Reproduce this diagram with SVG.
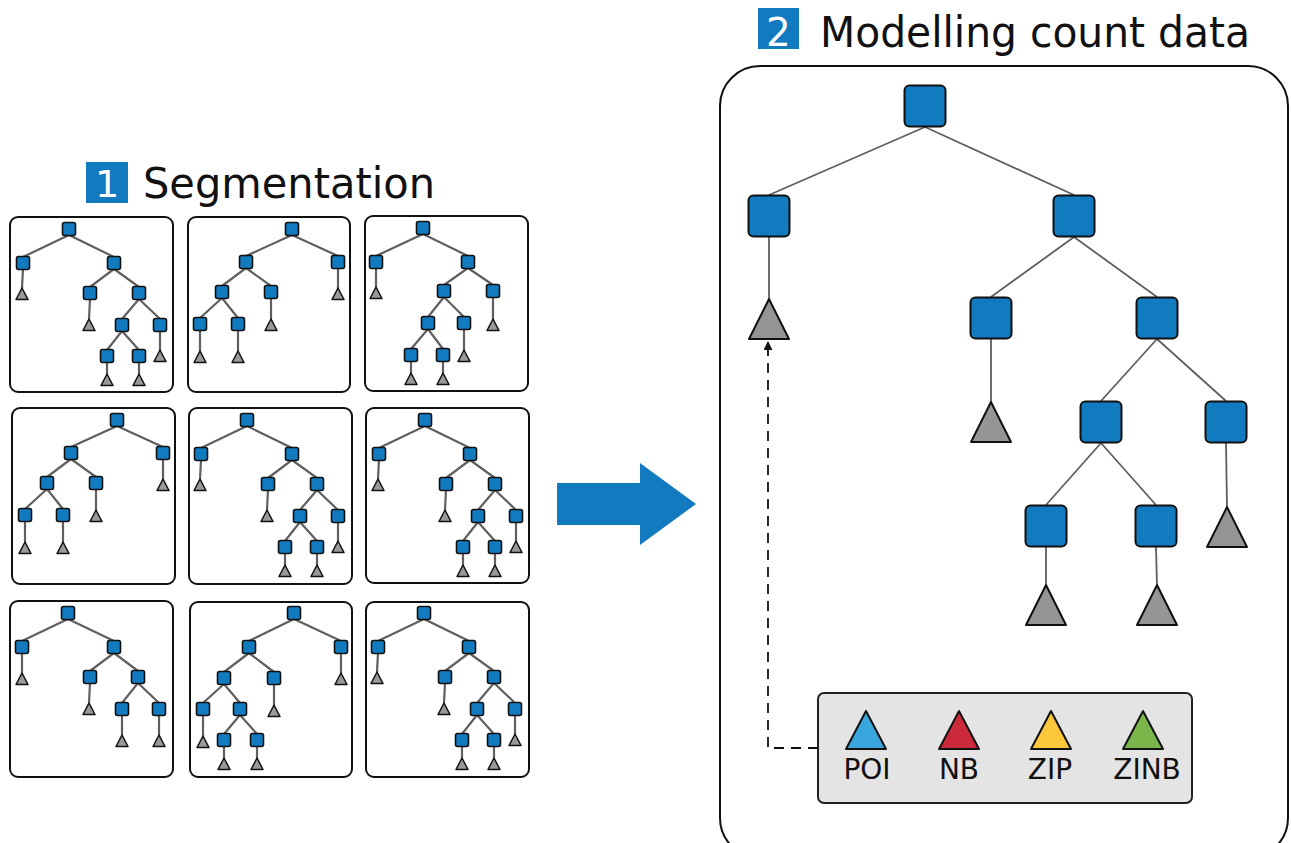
<svg xmlns="http://www.w3.org/2000/svg" xmlns:xlink="http://www.w3.org/1999/xlink" width="1291" height="843" viewBox="0 0 1291 843">
<style>
.panel{fill:#fff;stroke:#111;stroke-width:2}
.ss{fill:#127abf;stroke:#111;stroke-width:1.6}
.st{fill:#999;stroke:#111;stroke-width:1.5;stroke-linejoin:round}
.se{stroke:#5f5f5f;stroke-width:2.2;fill:none}
.bs{fill:#127abf;stroke:#111;stroke-width:2}
.bt{fill:#959595;stroke:#111;stroke-width:2;stroke-linejoin:round}
.be{stroke:#5f5f5f;stroke-width:1.8;fill:none}
.title{font-family:"DejaVu Sans",Verdana,sans-serif;fill:#111}
.num{font-family:"DejaVu Sans",Verdana,sans-serif;fill:#fff;text-anchor:middle}
.lbl{font-family:"DejaVu Sans",Verdana,sans-serif;font-size:28px;fill:#111;text-anchor:middle}
.lt{stroke:#111;stroke-width:2;stroke-linejoin:round}
</style>
<defs>
<rect id="sq" class="ss" x="-6.5" y="-6.5" width="13" height="13" rx="2"/>
<polygon id="tr" class="st" points="0,-6 6,5.5 -6,5.5"/>
<marker id="ah" viewBox="0 0 10 10" refX="9" refY="5" markerWidth="9" markerHeight="9" orient="auto" markerUnits="userSpaceOnUse">
<path d="M0,0 L10,5 L0,10 z" fill="#111"/>
</marker>
<g id="treeA">
<path class="se" d="M0,6 L-46,28 M0,6 L45,28 M-46,40 L-47,59 M45,40 L21,58 M45,40 L70,58 M21,70 L20,90 M70,70 L53,90 M70,70 L91,90 M91,102 L91,121 M53,102 L38,121 M53,102 L70,121 M38,133 L38,145 M70,133 L70,145"/>
<use href="#sq" x="0" y="0"/><use href="#sq" x="-46" y="34"/><use href="#sq" x="45" y="34"/>
<use href="#tr" x="-47" y="65"/><use href="#sq" x="21" y="64"/><use href="#sq" x="70" y="64"/>
<use href="#tr" x="20" y="96"/><use href="#sq" x="53" y="96"/><use href="#sq" x="91" y="96"/>
<use href="#tr" x="91" y="127"/><use href="#sq" x="38" y="127"/><use href="#sq" x="70" y="127"/>
<use href="#tr" x="38" y="151"/><use href="#tr" x="70" y="151"/>
</g>
<g id="treeB">
<path class="se" d="M0,6 L-46,27 M0,6 L46,27 M46,39 L46,59 M-46,39 L-70,57 M-46,39 L-21,57 M-21,69 L-21,90 M-70,69 L-92,89 M-70,69 L-54,89 M-92,101 L-92,122 M-54,101 L-54,122"/>
<use href="#sq" x="0" y="0"/><use href="#sq" x="-46" y="33"/><use href="#sq" x="46" y="33"/>
<use href="#tr" x="46" y="65"/><use href="#sq" x="-70" y="63"/><use href="#sq" x="-21" y="63"/>
<use href="#tr" x="-21" y="96"/><use href="#sq" x="-92" y="95"/><use href="#sq" x="-54" y="95"/>
<use href="#tr" x="-92" y="128"/><use href="#tr" x="-54" y="128"/>
</g>
<g id="treeC">
<path class="se" d="M0,6 L-46,28 M0,6 L46,28 M-46,40 L-46,60 M46,40 L22,58 M46,40 L70,58 M22,70 L21,90 M70,70 L54,90 M70,70 L91,90 M54,102 L54,122 M91,102 L91,122"/>
<use href="#sq" x="0" y="0"/><use href="#sq" x="-46" y="34"/><use href="#sq" x="46" y="34"/>
<use href="#tr" x="-46" y="66"/><use href="#sq" x="22" y="64"/><use href="#sq" x="70" y="64"/>
<use href="#tr" x="21" y="96"/><use href="#sq" x="54" y="96"/><use href="#sq" x="91" y="96"/>
<use href="#tr" x="54" y="128"/><use href="#tr" x="91" y="128"/>
</g>
<g id="treeD">
<path class="se" d="M0,6 L-45,28 M0,6 L47,28 M47,40 L47,60 M-45,40 L-70,59 M-45,40 L-20,59 M-20,71 L-20,92 M-70,71 L-91,90 M-70,71 L-54,90 M-91,102 L-91,123 M-54,102 L-70,121 M-54,102 L-37,121 M-70,133 L-70,145 M-37,133 L-37,145"/>
<use href="#sq" x="0" y="0"/><use href="#sq" x="-45" y="34"/><use href="#sq" x="47" y="34"/>
<use href="#tr" x="47" y="66"/><use href="#sq" x="-70" y="65"/><use href="#sq" x="-20" y="65"/>
<use href="#tr" x="-20" y="98"/><use href="#sq" x="-91" y="96"/><use href="#sq" x="-54" y="96"/>
<use href="#tr" x="-91" y="129"/><use href="#sq" x="-70" y="127"/><use href="#sq" x="-37" y="127"/>
<use href="#tr" x="-70" y="151"/><use href="#tr" x="-37" y="151"/>
</g>
<g id="treeE">
<path class="se" d="M0,6 L-47,28 M0,6 L45,28 M-47,40 L-47,59 M45,40 L21,57 M45,40 L70,57 M70,69 L70,91 M21,69 L5,89 M21,69 L41,89 M41,101 L41,122 M5,101 L-12,121 M5,101 L20,121 M-12,133 L-12,145 M20,133 L20,145"/>
<use href="#sq" x="0" y="0"/><use href="#sq" x="-47" y="34"/><use href="#sq" x="45" y="34"/>
<use href="#tr" x="-47" y="65"/><use href="#sq" x="21" y="63"/><use href="#sq" x="70" y="63"/>
<use href="#tr" x="70" y="97"/><use href="#sq" x="5" y="95"/><use href="#sq" x="41" y="95"/>
<use href="#tr" x="41" y="128"/><use href="#sq" x="-12" y="127"/><use href="#sq" x="20" y="127"/>
<use href="#tr" x="-12" y="151"/><use href="#tr" x="20" y="151"/>
</g>
</defs>
<rect width="1291" height="843" fill="#fff"/>

<g id="title1">
<rect x="86" y="162" width="42" height="41" fill="#127abf"/>
<text class="num" x="107" y="197" font-size="38">1</text>
<text class="title" x="143" y="198" font-size="43" textLength="292" lengthAdjust="spacingAndGlyphs">Segmentation</text>
</g>

<g id="panel1"><rect class="panel" x="10" y="217" width="163" height="175" rx="8"/><use href="#treeA" transform="translate(69,229)"/></g>
<g id="panel2"><rect class="panel" x="188" y="217" width="162" height="175" rx="8"/><use href="#treeB" transform="translate(292,229)"/></g>
<g id="panel3"><rect class="panel" x="365" y="216" width="163" height="175" rx="8"/><use href="#treeE" transform="translate(423,228)"/></g>
<g id="panel4"><rect class="panel" x="12" y="408" width="163" height="176" rx="8"/><use href="#treeB" transform="translate(117,420)"/></g>
<g id="panel5"><rect class="panel" x="189" y="408" width="163" height="176" rx="8"/><use href="#treeA" transform="translate(247,420)"/></g>
<g id="panel6"><rect class="panel" x="366" y="408" width="163" height="175" rx="8"/><use href="#treeA" transform="translate(425,420)"/></g>
<g id="panel7"><rect class="panel" x="10" y="601" width="163" height="176" rx="8"/><use href="#treeC" transform="translate(68,613)"/></g>
<g id="panel8"><rect class="panel" x="190" y="602" width="162" height="175" rx="8"/><use href="#treeD" transform="translate(294,613)"/></g>
<g id="panel9"><rect class="panel" x="366" y="602" width="163" height="175" rx="8"/><use href="#treeA" transform="translate(424,613)"/></g>

<g id="bigArrow">
<polygon points="557,483 640,483 640,463 696,504 640,545 640,525 557,525" fill="#127abf"/>
</g>

<g id="title2">
<rect x="758" y="8" width="41" height="41" fill="#127abf"/>
<text class="num" x="778.5" y="46" font-size="39">2</text>
<text class="title" x="820" y="47" font-size="42" textLength="430" lengthAdjust="spacingAndGlyphs">Modelling count data</text>
</g>

<g id="modelPanel">
<rect class="panel" x="720" y="66" width="568" height="792" rx="40"/>
</g>

<g id="connectors">
<path class="be" d="M925,127 L769,195 M925,127 L1074,195 M769,237 L769,300 M1074,237 L991,297 M1074,237 L1157,297 M991,339 L991,403 M1157,339 L1101,401 M1157,339 L1226,401 M1226,443 L1227,508 M1101,443 L1046,505 M1101,443 L1156,505 M1046,547 L1046,586 M1156,547 L1157,586"/>
<path d="M818,748 L768,748 L768,342" fill="none" stroke="#111" stroke-width="1.8" stroke-dasharray="10,7" marker-end="url(#ah)"/>
</g>

<g id="n_root"><rect class="bs" x="904.5" y="85.5" width="41" height="41" rx="5"/></g>
<g id="n_L"><rect class="bs" x="748.5" y="195.5" width="41" height="41" rx="5"/></g>
<g id="n_R"><rect class="bs" x="1053.5" y="195.5" width="41" height="41" rx="5"/></g>
<g id="t_L"><polygon class="bt" points="769,299 789,339 749,339"/></g>
<g id="n_RL"><rect class="bs" x="970.5" y="297.5" width="41" height="41" rx="5"/></g>
<g id="n_RR"><rect class="bs" x="1136.5" y="297.5" width="41" height="41" rx="5"/></g>
<g id="t_RL"><polygon class="bt" points="991,402 1011,442 971,442"/></g>
<g id="n_RRL"><rect class="bs" x="1080.5" y="401.5" width="41" height="41" rx="5"/></g>
<g id="n_RRR"><rect class="bs" x="1205.5" y="401.5" width="41" height="41" rx="5"/></g>
<g id="t_RRR"><polygon class="bt" points="1227,507 1247,547 1207,547"/></g>
<g id="n_RRLL"><rect class="bs" x="1025.5" y="505.5" width="41" height="41" rx="5"/></g>
<g id="n_RRLR"><rect class="bs" x="1135.5" y="505.5" width="41" height="41" rx="5"/></g>
<g id="t_RRLL"><polygon class="bt" points="1046,585 1066,625 1026,625"/></g>
<g id="t_RRLR"><polygon class="bt" points="1157,585 1177,625 1137,625"/></g>

<g id="legend">
<rect x="818" y="693" width="374" height="110" rx="6" fill="#e4e4e4" stroke="#222" stroke-width="2"/>
<g id="leg_poi"><polygon class="lt" points="866,711 886,749 846,749" fill="#3aa6de"/><text class="lbl" x="867" y="779">POI</text></g>
<g id="leg_nb"><polygon class="lt" points="959,711 979,749 939,749" fill="#cc2a3b"/><text class="lbl" x="959" y="779">NB</text></g>
<g id="leg_zip"><polygon class="lt" points="1051,711 1071,749 1031,749" fill="#fcc73b"/><text class="lbl" x="1050" y="779">ZIP</text></g>
<g id="leg_zinb"><polygon class="lt" points="1143,711 1163,749 1123,749" fill="#7ab649"/><text class="lbl" x="1147" y="779">ZINB</text></g>
</g>
</svg>
